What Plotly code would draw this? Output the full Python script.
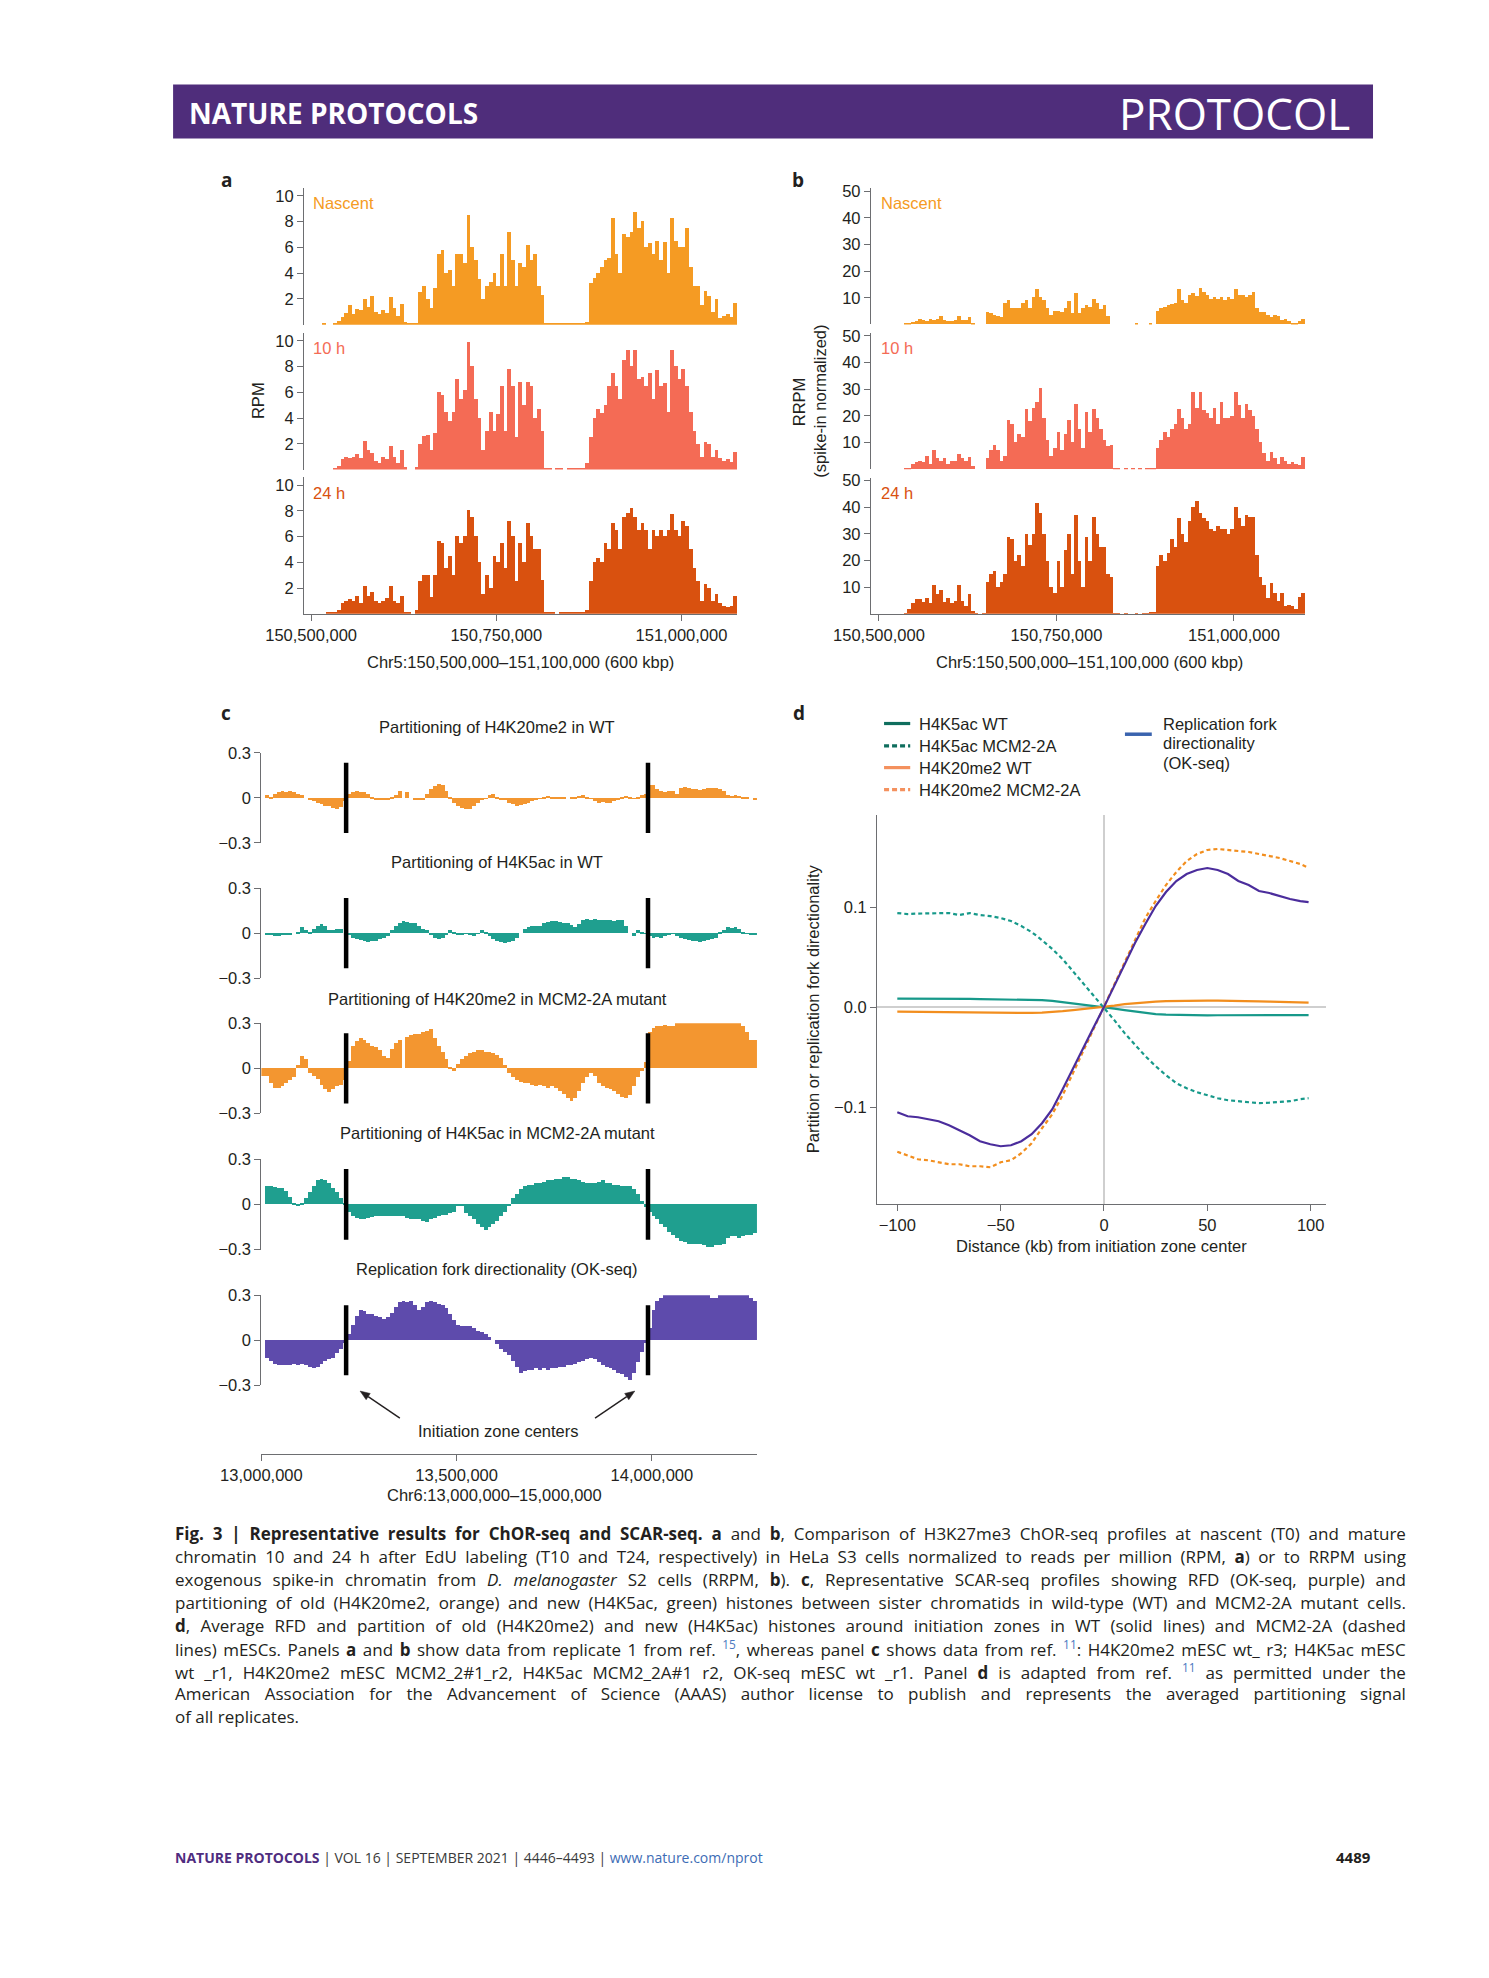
import math
import plotly.graph_objects as go

W, H = 1489, 1978


def fx(p):
    return p / W


def fy(p):
    return 1 - p / H


# ---------------- data ----------------
# Panels a/b: ChOR-seq tracks, 5 kb bins (bin centres from 150,492,500 bp)
A_BIN_START = 150_492_500
A_BIN_WIDTH = 5_000
GENOME_TICKS_AB = [150_500_000, 150_750_000, 151_000_000]

a_nascent = [0, 0, 0, 0, 0, 0.05, 0, 0, 0.1, 0.3,
             0.6, 0.9, 1.5, 0.8, 1.2, 1.1, 2.0, 1.4, 2.2, 1.0,
             0.8, 1.1, 0.9, 2.1, 1.3, 0.7, 1.6, 0.2, 0.1, 0.05,
             0.1, 2.5, 3.0, 2.0, 1.3, 2.8, 5.5, 5.8, 4.0, 4.2,
             3.0, 5.5, 5.5, 4.8, 8.5, 6.0, 5.0, 3.5, 2.0, 3.0,
             3.3, 4.0, 3.0, 5.5, 3.0, 7.2, 5.0, 3.0, 4.8, 4.5,
             6.2, 5.0, 5.5, 3.0, 2.3, 0.1, 0.05, 0.1, 0.05, 0.1,
             0.05, 0.1, 0.05, 0.1, 0.05, 0.1, 0.2, 3.2, 3.6, 4.0,
             4.5, 5.0, 5.2, 8.3, 5.5, 4.0, 7.0, 6.8, 7.2, 8.7,
             7.5, 8.0, 6.0, 6.3, 5.5, 6.5, 5.0, 6.4, 4.0, 8.3,
             6.5, 6.0, 6.0, 7.5, 4.5, 3.0, 3.0, 1.5, 2.6, 2.2,
             1.0, 2.0, 0.5, 0.7, 0.8, 0.6, 1.7]
a_10h = [0, 0, 0, 0, 0, 0, 0, 0, 0.1, 0.3,
         0.8, 1.0, 0.9, 1.0, 1.2, 0.9, 2.2, 1.5, 1.3, 0.7,
         0.5, 1.0, 0.8, 1.8, 1.0, 0.5, 1.5, 0.2, 0, 0,
         0.2, 2.0, 2.6, 2.7, 1.5, 2.8, 6.0, 5.8, 4.5, 3.8,
         4.5, 7.0, 5.5, 6.2, 9.9, 8.0, 5.5, 4.0, 1.5, 3.0,
         4.5, 3.0, 4.3, 6.5, 3.0, 7.8, 6.5, 2.5, 6.8, 5.0,
         6.8, 6.5, 4.0, 4.7, 3.0, 0.1, 0.05, 0, 0.05, 0.05,
         0, 0.05, 0.05, 0.05, 0.1, 0.1, 0.5, 2.5, 4.0, 4.7,
         4.4, 5.0, 6.5, 7.5, 6.5, 5.5, 8.5, 9.3, 8.0, 9.3,
         7.0, 7.2, 6.5, 7.5, 5.5, 7.7, 6.5, 6.7, 4.5, 9.3,
         8.0, 7.0, 7.8, 6.5, 4.5, 3.0, 2.0, 1.0, 2.1, 2.0,
         1.0, 1.5, 0.9, 0.7, 0.8, 0.6, 1.4]
a_24h = [0, 0, 0, 0, 0, 0, 0.05, 0.05, 0.1, 0.3,
         0.8, 1.0, 1.1, 1.0, 1.4, 0.8, 2.1, 1.4, 1.7, 1.0,
         0.8, 1.0, 1.2, 2.1, 1.0, 0.8, 1.4, 0.15, 0.05, 0,
         0.3, 2.5, 3.0, 3.0, 1.3, 3.0, 5.6, 5.5, 3.5, 4.5,
         3.0, 6.0, 5.5, 6.0, 8.0, 7.5, 6.0, 4.0, 1.5, 3.0,
         2.0, 4.5, 4.0, 5.5, 3.5, 7.2, 6.0, 2.5, 5.5, 4.0,
         7.0, 6.0, 5.0, 5.0, 2.6, 0.1, 0.05, 0.05, 0, 0.05,
         0.05, 0.05, 0.05, 0.05, 0.1, 0.1, 0.3, 2.5, 4.0, 4.3,
         4.0, 5.5, 5.0, 7.0, 6.5, 5.0, 7.5, 7.8, 8.2, 7.5,
         6.5, 7.0, 6.5, 5.0, 6.5, 6.0, 6.5, 6.0, 6.5, 7.7,
         6.5, 6.0, 7.2, 6.8, 5.0, 3.5, 2.5, 1.0, 2.3, 2.0,
         1.0, 1.5, 0.8, 0.6, 0.5, 0.6, 1.4]

b_nascent = [0, 0, 0, 0, 0, 0, 0, 0, 0, 0.3,
             0.5, 0.8, 1.0, 2.0, 1.5, 1.2, 1.8, 1.5, 2.0, 3.0,
             1.5, 1.2, 1.0, 1.5, 3.0, 1.5, 1.5, 2.5, 0.3, 0,
             0, 0, 4.5, 4.0, 3.5, 3.0, 2.5, 8.0, 9.0, 6.0,
             6.0, 6.0, 8.0, 9.0, 6.0, 10.0, 13.0, 10.0, 9.0, 6.0,
             3.5, 5.0, 5.0, 4.5, 6.0, 8.5, 4.0, 11.5, 4.0, 6.0,
             7.0, 6.5, 9.5, 8.0, 5.5, 7.0, 3.0, 0, 0, 0,
             0, 0, 0, 0, 0.3, 0, 0, 0, 0.3, 0,
             5.0, 6.0, 6.5, 7.0, 7.5, 8.0, 13.0, 9.0, 8.0, 11.0,
             11.5, 10.5, 13.5, 12.0, 11.0, 9.5, 10.0, 9.5, 10.0, 9.0,
             10.0, 9.5, 13.0, 11.0, 11.0, 10.0, 11.0, 12.0, 6.0, 4.5,
             4.5, 3.5, 2.5, 3.5, 3.0, 1.5, 2.0, 1.0, 0.5, 0.5,
             1.0, 2.0]
b_10h = [0, 0, 0, 0, 0, 0, 0, 0, 0, 0.5,
         0.5, 2.0, 2.5, 3.0, 2.5, 5.0, 2.0, 7.0, 4.0, 3.0,
         4.0, 2.0, 3.0, 3.0, 5.5, 4.0, 3.0, 4.5, 1.0, 0,
         0, 0, 4.0, 7.0, 9.0, 7.0, 3.0, 5.0, 18.5, 17.0,
         10.0, 13.0, 12.0, 22.5, 18.0, 23.0, 25.0, 30.5, 19.0, 11.0,
         5.0, 8.0, 14.0, 7.0, 13.0, 18.5, 10.0, 24.5, 15.0, 8.0,
         21.5, 14.0, 22.5, 19.0, 15.0, 11.0, 8.5, 9.0, 0.3, 0.3,
         0, 0.3, 0, 0.3, 0, 0.3, 0, 0.3, 0.3, 0.5,
         8.0, 11.0, 14.0, 12.0, 15.0, 17.0, 22.5, 19.0, 15.0, 17.0,
         29.0, 23.0, 29.0, 22.0, 21.0, 19.0, 23.0, 17.0, 25.0, 19.0,
         19.0, 20.0, 29.0, 24.0, 19.0, 24.5, 22.0, 20.0, 15.0, 10.0,
         6.0, 3.0, 6.5, 4.0, 2.0, 4.5, 3.0, 2.0, 2.5, 2.0,
         1.5, 4.5]
b_24h = [0, 0, 0, 0, 0, 0, 0, 0, 0, 0.5,
         2.0, 4.0, 5.5, 5.5, 4.5, 6.0, 4.0, 11.0, 7.5, 9.0,
         4.5, 6.0, 4.0, 5.0, 11.0, 5.0, 3.0, 7.5, 1.0, 0.2,
         0, 0.5, 12.0, 15.0, 16.0, 10.0, 12.0, 15.0, 29.0, 28.0,
         20.0, 22.0, 18.0, 30.0, 26.0, 30.0, 41.5, 38.0, 30.0, 20.0,
         10.0, 8.0, 20.0, 10.0, 24.0, 30.0, 15.0, 37.0, 20.0, 10.0,
         29.0, 20.0, 36.5, 30.0, 25.0, 25.0, 15.0, 14.0, 0.3, 0.2,
         0, 0.2, 0, 0, 0.2, 0, 0.2, 0.5, 0.8, 0.8,
         18.0, 22.0, 20.0, 23.0, 28.0, 25.0, 36.0, 30.0, 27.0, 35.0,
         40.0, 42.5, 38.0, 36.0, 35.0, 32.0, 31.0, 33.0, 32.0, 32.0,
         30.0, 32.0, 40.0, 36.0, 33.0, 37.0, 36.5, 36.5, 22.0, 14.0,
         11.0, 6.0, 11.5, 8.0, 5.0, 8.0, 3.0, 3.5, 3.0, 2.0,
         6.5, 8.0]

# Panel c: SCAR-seq partitioning, 10 kb bins (bin centres from 13,005,000 bp)
C_BIN_START = 13_005_000
C_BIN_WIDTH = 10_000
GENOME_TICKS_C = [13_000_000, 13_500_000, 14_000_000]
IZ_CENTERS = [13_217_000, 13_990_000]

c_h4k20_wt = [0, 0.02, 0.01, 0.03, 0.04, 0.045, 0.04, 0.045, 0.04, 0.03,
              0.02, 0.0, -0.01, -0.02, -0.03, -0.04, -0.05, -0.055, -0.065, -0.07,
              -0.06, -0.02, 0.03, 0.04, 0.045, 0.04, 0.04, 0.03, 0.01, -0.01,
              -0.015, -0.01, -0.01, 0.01, 0.02, 0.05, 0.0, 0.04, 0.0, -0.01,
              -0.015, -0.01, 0.03, 0.06, 0.08, 0.095, 0.085, 0.05, 0.01, -0.03,
              -0.05, -0.065, -0.075, -0.07, -0.05, -0.03, -0.01, -0.005, 0.02, 0.03,
              0.01, -0.01, -0.015, -0.03, -0.04, -0.05, -0.045, -0.04, -0.035, -0.02,
              -0.01, -0.005, 0.005, 0.015, 0.01, 0.005, 0.01, 0.005, 0.0, 0.005,
              0.01, 0.015, 0.02, 0.01, -0.005, -0.02, -0.03, -0.025, -0.03, -0.03,
              -0.02, -0.01, 0.005, 0.015, 0.01, -0.005, 0.01, 0.02, 0.025, 0.09,
              0.085, 0.06, 0.05, 0.04, 0.045, 0.05, 0.03, 0.07, 0.075, 0.065,
              0.06, 0.06, 0.055, 0.06, 0.065, 0.07, 0.065, 0.06, 0.05, 0.02,
              0.015, 0.02, 0.015, 0.01, 0.005, 0.0, -0.01]
c_h4k5_wt = [0, -0.01, -0.015, -0.02, -0.02, -0.01, -0.015, -0.01, 0.0, 0.01,
             0.04, 0.02, 0.01, 0.03, 0.05, 0.06, 0.05, 0.02, 0.02, 0.03,
             0.025, 0.0, -0.01, -0.03, -0.04, -0.045, -0.05, -0.06, -0.055, -0.05,
             -0.04, -0.03, -0.02, 0.02, 0.05, 0.07, 0.08, 0.075, 0.07, 0.065,
             0.05, 0.03, 0.02, -0.01, -0.03, -0.04, -0.035, -0.01, 0.02, 0.01,
             -0.01, -0.01, -0.005, -0.01, -0.02, -0.005, 0.02, 0.01, -0.02, -0.04,
             -0.05, -0.06, -0.065, -0.06, -0.05, -0.03, 0.0, 0.03, 0.04, 0.045,
             0.05, 0.05, 0.07, 0.075, 0.08, 0.08, 0.075, 0.07, 0.065, 0.055,
             0.04, 0.06, 0.09, 0.095, 0.09, 0.095, 0.09, 0.09, 0.085, 0.09,
             0.08, 0.085, 0.09, 0.05, 0.0, -0.02, 0.02, 0.01, -0.005, -0.02,
             -0.03, -0.025, -0.03, -0.02, -0.01, -0.005, -0.02, -0.03, -0.04, -0.045,
             -0.05, -0.055, -0.06, -0.05, -0.045, -0.04, -0.03, 0.01, 0.02, 0.04,
             0.035, 0.04, 0.03, 0.01, -0.005, -0.01, -0.01]
c_h4k20_mut = [-0.05, -0.05, -0.1, -0.13, -0.13, -0.12, -0.1, -0.08, -0.06, 0.02,
               0.08, 0.06, -0.03, -0.05, -0.07, -0.11, -0.14, -0.16, -0.14, -0.12,
               -0.11, -0.08, 0.05, 0.15, 0.18, 0.2, 0.19, 0.17, 0.15, 0.14,
               0.12, 0.08, 0.07, 0.13, 0.17, 0.19, 0.0, 0.21, 0.22, 0.23,
               0.23, 0.24, 0.25, 0.26, 0.2, 0.15, 0.11, 0.06, 0.01, -0.02,
               0.03, 0.06, 0.08, 0.1, 0.11, 0.12, 0.12, 0.11, 0.11, 0.1,
               0.09, 0.07, 0.02, -0.03, -0.06, -0.08, -0.09, -0.1, -0.1, -0.11,
               -0.12, -0.11, -0.12, -0.13, -0.12, -0.13, -0.15, -0.17, -0.2, -0.22,
               -0.2, -0.15, -0.1, -0.06, -0.03, -0.05, -0.1, -0.12, -0.13, -0.14,
               -0.15, -0.17, -0.19, -0.2, -0.18, -0.12, -0.06, -0.02, 0.04, 0.24,
               0.27, 0.28, 0.28, 0.29, 0.28, 0.28, 0.3, 0.3, 0.3, 0.3,
               0.3, 0.3, 0.3, 0.3, 0.3, 0.3, 0.3, 0.3, 0.3, 0.3,
               0.3, 0.3, 0.3, 0.28, 0.24, 0.19, 0.19]
c_h4k5_mut = [0, 0.12, 0.12, 0.115, 0.11, 0.11, 0.09, 0.05, 0.01, -0.01,
              0.01, 0.04, 0.08, 0.12, 0.16, 0.17, 0.16, 0.14, 0.11, 0.08,
              0.04, 0.01, -0.05, -0.08, -0.09, -0.1, -0.1, -0.09, -0.085, -0.08,
              -0.075, -0.08, -0.08, -0.075, -0.08, -0.08, -0.08, -0.09, -0.1, -0.1,
              -0.1, -0.11, -0.12, -0.1, -0.09, -0.08, -0.07, -0.07, -0.06, -0.05,
              -0.01, -0.005, -0.06, -0.08, -0.1, -0.13, -0.15, -0.17, -0.15, -0.13,
              -0.11, -0.08, -0.05, -0.01, 0.04, 0.07, 0.1, 0.12, 0.13, 0.13,
              0.14, 0.14, 0.15, 0.16, 0.16, 0.165, 0.17, 0.18, 0.18, 0.17,
              0.17, 0.16, 0.15, 0.14, 0.14, 0.14, 0.15, 0.16, 0.14, 0.14,
              0.13, 0.13, 0.12, 0.12, 0.12, 0.1, 0.07, 0.02, -0.02, -0.05,
              -0.08, -0.1, -0.13, -0.15, -0.18, -0.2, -0.22, -0.24, -0.25, -0.26,
              -0.26, -0.265, -0.26, -0.27, -0.28, -0.28, -0.27, -0.27, -0.26, -0.22,
              -0.21, -0.21, -0.22, -0.21, -0.2, -0.2, -0.19]
c_rfd = [0, -0.12, -0.14, -0.16, -0.17, -0.17, -0.17, -0.17, -0.16, -0.17,
         -0.16, -0.17, -0.18, -0.19, -0.18, -0.16, -0.14, -0.13, -0.12, -0.09,
         -0.06, -0.02, 0.04, 0.1, 0.16, 0.2, 0.19, 0.17, 0.17, 0.16,
         0.15, 0.14, 0.15, 0.18, 0.22, 0.25, 0.26, 0.25, 0.26, 0.23,
         0.2, 0.22, 0.25, 0.26, 0.25, 0.24, 0.23, 0.21, 0.17, 0.13,
         0.1, 0.09, 0.09, 0.09, 0.08, 0.06, 0.05, 0.04, 0.02, 0.0,
         -0.03, -0.06, -0.08, -0.1, -0.14, -0.18, -0.22, -0.21, -0.2, -0.2,
         -0.19, -0.2, -0.19, -0.2, -0.19, -0.19, -0.18, -0.18, -0.17, -0.17,
         -0.16, -0.15, -0.14, -0.13, -0.12, -0.13, -0.15, -0.17, -0.18, -0.19,
         -0.2, -0.22, -0.23, -0.25, -0.27, -0.22, -0.15, -0.08, -0.02, 0.08,
         0.2, 0.26, 0.28, 0.3, 0.3, 0.3, 0.3, 0.3, 0.3, 0.3,
         0.3, 0.3, 0.3, 0.3, 0.3, 0.28, 0.28, 0.3, 0.3, 0.3,
         0.3, 0.3, 0.3, 0.3, 0.3, 0.28, 0.26]

# Panel d: averaged profiles around initiation zones (kb)
d_dist = [-100, -95, -90, -85, -80, -75, -70, -65, -60, -55, -50, -45, -40, -35,
          -30, -25, -20, -15, -10, -5, 0, 5, 10, 15, 20, 25, 30, 35, 40, 45, 50,
          55, 60, 65, 70, 75, 80, 85, 90, 95, 99]
d_h4k5_wt = [0.0085, 0.0085, 0.0086, 0.0087, 0.0088, 0.0087, 0.0085, 0.0083, 0.008,
             0.0079, 0.0078, 0.0077, 0.0075, 0.0073, 0.007, 0.0062, 0.005, 0.0035,
             0.0022, 0.001, 0.0, -0.0015, -0.003, -0.0045, -0.006, -0.007, -0.0075,
             -0.0078, -0.008, -0.0081, -0.0082, -0.0081, -0.008, -0.008, -0.008,
             -0.0081, -0.0082, -0.0081, -0.008, -0.008, -0.008]
d_h4k5_mut = [0.094, 0.093, 0.0935, 0.0936, 0.094, 0.094, 0.092, 0.094, 0.092, 0.091,
              0.089, 0.086, 0.081, 0.075, 0.067, 0.058, 0.048, 0.036, 0.024, 0.012,
              0.0, -0.013, -0.026, -0.038, -0.049, -0.059, -0.068, -0.076, -0.081,
              -0.085, -0.088, -0.091, -0.093, -0.094, -0.095, -0.096, -0.0955,
              -0.095, -0.094, -0.092, -0.091]
d_h4k20_wt = [-0.0045, -0.0046, -0.0048, -0.005, -0.0052, -0.0055, -0.0058, -0.0059,
              -0.006, -0.0061, -0.0062, -0.0061, -0.006, -0.0058, -0.0055, -0.005,
              -0.004, -0.003, -0.002, -0.001, 0.0, 0.0015, 0.003, 0.004, 0.0048,
              0.0055, 0.006, 0.0063, 0.0065, 0.0065, 0.0065, 0.0065, 0.0065, 0.0062,
              0.006, 0.0058, 0.0055, 0.0052, 0.005, 0.0047, 0.0045]
d_h4k20_mut = [-0.1445, -0.148, -0.152, -0.153, -0.155, -0.157, -0.157, -0.159, -0.159,
               -0.160, -0.155, -0.153, -0.146, -0.136, -0.121, -0.107, -0.088, -0.066,
               -0.043, -0.022, 0.0, 0.023, 0.044, 0.067, 0.089, 0.106, 0.122, 0.135,
               0.146, 0.153, 0.157, 0.158, 0.157, 0.156, 0.155, 0.153, 0.151, 0.149,
               0.146, 0.143, 0.139]
d_rfd = [-0.105, -0.109, -0.11, -0.112, -0.114, -0.118, -0.123, -0.128, -0.134, -0.137,
         -0.139, -0.138, -0.134, -0.127, -0.116, -0.102, -0.082, -0.061, -0.040, -0.020,
         0.0, 0.021, 0.042, 0.064, 0.083, 0.101, 0.115, 0.126, 0.133, 0.137, 0.139,
         0.137, 0.133, 0.126, 0.122, 0.116, 0.114, 0.111, 0.108, 0.106, 0.105]

# ---------------- style ----------------
TXT = "#231f20"
AXC = "#6d6e71"
FONT = "Liberation Sans, Arial, Helvetica, sans-serif"
CAPF = "Open Sans, Noto Sans, sans-serif"
PURPLE_HDR = "#4f2d7b"
TICK_SIZE = 16.5
LABEL_SIZE = 16.5

COL_NASCENT = "#f59b23"
COL_10H = "#f46b55"
COL_24H = "#d9510f"
COL_ORANGE_C = "#f39630"
COL_TEAL_C = "#1f9f8f"
COL_PURPLE_C = "#5e4bac"
COL_ORANGE = "#f28e1e"
COL_TEAL = "#17998a"
COL_RFD = "#4b2d9c"


def bins(start, width, n):
    return [start + width * i for i in range(n)]


fig = go.Figure()

# panel a & b bars
for vals, col, ya in [(a_nascent, COL_NASCENT, "y"), (a_10h, COL_10H, "y2"), (a_24h, COL_24H, "y3")]:
    fig.add_trace(go.Bar(x=bins(A_BIN_START, A_BIN_WIDTH, len(vals)), y=vals, width=A_BIN_WIDTH,
                         marker=dict(color=col, line=dict(width=0)), xaxis="x", yaxis=ya,
                         hoverinfo="skip"))
for vals, col, ya in [(b_nascent, COL_NASCENT, "y4"), (b_10h, COL_10H, "y5"), (b_24h, COL_24H, "y6")]:
    fig.add_trace(go.Bar(x=bins(A_BIN_START, A_BIN_WIDTH, len(vals)), y=vals, width=A_BIN_WIDTH,
                         marker=dict(color=col, line=dict(width=0)), xaxis="x2", yaxis=ya,
                         hoverinfo="skip"))
# panel c bars
for vals, col, ya in [(c_h4k20_wt, COL_ORANGE_C, "y7"), (c_h4k5_wt, COL_TEAL_C, "y8"),
                      (c_h4k20_mut, COL_ORANGE_C, "y9"), (c_h4k5_mut, COL_TEAL_C, "y10"),
                      (c_rfd, COL_PURPLE_C, "y11")]:
    fig.add_trace(go.Bar(x=bins(C_BIN_START, C_BIN_WIDTH, len(vals)), y=vals, width=C_BIN_WIDTH,
                         marker=dict(color=col, line=dict(width=0)), xaxis="x3", yaxis=ya,
                         hoverinfo="skip"))
# panel d lines
for vals, col, dash in [(d_h4k5_wt, COL_TEAL, "solid"), (d_h4k20_wt, COL_ORANGE, "solid"),
                        (d_h4k5_mut, COL_TEAL, "4px,3px"), (d_h4k20_mut, COL_ORANGE, "4px,3px"),
                        (d_rfd, COL_RFD, "solid")]:
    fig.add_trace(go.Scatter(x=d_dist, y=vals, mode="lines",
                             line=dict(color=col, width=2.2, dash=dash),
                             xaxis="x4", yaxis="y12", hoverinfo="skip"))


def axis(**kw):
    base = dict(showgrid=False, zeroline=False, showline=True, linecolor=AXC, linewidth=1.2,
                ticks="outside", ticklen=6, tickcolor=AXC, tickwidth=1.2,
                tickfont=dict(family=FONT, size=TICK_SIZE, color=TXT), fixedrange=True)
    base.update(kw)
    return base


layout = dict(
    width=W, height=H, margin=dict(l=0, r=0, t=0, b=0),
    paper_bgcolor="white", plot_bgcolor="white", showlegend=False,
    barmode="overlay", bargap=0,
)

# panel a axes
layout["xaxis"] = axis(domain=[fx(262.3), fx(707.5)], range=[150_490_500, 151_075_000],
                       anchor="y3", tickvals=GENOME_TICKS_AB, tickformat=",d")
layout["yaxis"] = axis(domain=[fy(310.5), fy(172.7)], range=[0, 10.6], anchor="x", tickvals=[2, 4, 6, 8, 10])
layout["yaxis2"] = axis(domain=[fy(456.7), fy(318.9)], range=[0, 10.6], anchor="x", tickvals=[2, 4, 6, 8, 10])
layout["yaxis3"] = axis(domain=[fy(602.3), fy(464.5)], range=[0, 10.6], anchor="x", tickvals=[2, 4, 6, 8, 10])
# panel b axes
layout["xaxis2"] = axis(domain=[fx(845.2), fx(1291.8)], range=[150_488_700, 151_100_400],
                        anchor="y6", tickvals=GENOME_TICKS_AB, tickformat=",d")
layout["yaxis4"] = axis(domain=[fy(310.3), fy(173.0)], range=[0, 51], anchor="x2", tickvals=[10, 20, 30, 40, 50])
layout["yaxis5"] = axis(domain=[fy(456.3), fy(319.0)], range=[0, 51], anchor="x2", tickvals=[10, 20, 30, 40, 50])
layout["yaxis6"] = axis(domain=[fy(602.3), fy(465.0)], range=[0, 51], anchor="x2", tickvals=[10, 20, 30, 40, 50])
# panel c axes
layout["xaxis3"] = axis(domain=[fx(218.4), fx(728)], range=[13_000_000, 14_269_000],
                        anchor="free", position=fy(1450), tickvals=GENOME_TICKS_C, tickformat=",d")
c_doms = [(742.5, 833.5), (879, 970), (1015.5, 1106.4), (1152.5, 1244), (1290, 1380.7)]
for k, (top, bot) in enumerate(c_doms):
    layout["yaxis%d" % (7 + k)] = axis(domain=[fy(bot), fy(top)], range=[-0.3, 0.3], anchor="x3",
                                        tickvals=[-0.3, 0, 0.3], ticktext=["\u22120.3", "0", "0.3"])
# panel d axes
layout["xaxis4"] = axis(domain=[fx(851.5), fx(1312.9)], range=[-109.8, 107.3], anchor="y12",
                        tickvals=[-100, -50, 0, 50, 100],
                        ticktext=["\u2212100", "\u221250", "0", "50", "100"],
                        zeroline=True, zerolinecolor="#cfcfcf", zerolinewidth=1.5)
layout["yaxis12"] = axis(domain=[fy(1198), fy(805.7)], range=[-0.1968, 0.1916], anchor="x4",
                         tickvals=[-0.1, 0, 0.1], ticktext=["\u22120.1", "0.0", "0.1"],
                         zeroline=True, zerolinecolor="#cfcfcf", zerolinewidth=1.5)

fig.update_layout(**layout)

shapes = []
# header bar
shapes.append(dict(type="rect", xref="paper", yref="paper", x0=fx(127.6), x1=fx(1361.5),
                   y0=fy(122.5), y1=fy(68), fillcolor=PURPLE_HDR, line=dict(width=0), layer="below"))
# initiation-zone markers in panel c
for k in range(5):
    for xc in IZ_CENTERS:
        shapes.append(dict(type="line", xref="x3", yref="y%d" % (7 + k), x0=xc, x1=xc,
                           y0=-0.234, y1=0.234, line=dict(color="black", width=4.5)))
# arrows pointing at the initiation zone markers (pixel geometry)
for (tail_x, tail_y), (tip_x, tip_y) in [((360.8, 1414.0), (319.9, 1386.7)),
                                         ((561.5, 1414.0), (602.4, 1386.7))]:
    dx, dy = tip_x - tail_x, tip_y - tail_y
    ln = math.hypot(dx, dy)
    ux, uy = dx / ln, dy / ln
    bx, by = tip_x - 10 * ux, tip_y - 10 * uy
    nx, ny = -uy, ux
    shapes.append(dict(type="line", xref="paper", yref="paper", x0=fx(tail_x), y0=fy(tail_y),
                       x1=fx(bx), y1=fy(by), line=dict(color=TXT, width=1.4)))
    p1 = (bx + 3.8 * nx, by + 3.8 * ny)
    p2 = (bx - 3.8 * nx, by - 3.8 * ny)
    path = "M %f %f L %f %f L %f %f Z" % (fx(tip_x), fy(tip_y), fx(p1[0]), fy(p1[1]), fx(p2[0]), fy(p2[1]))
    shapes.append(dict(type="path", xref="paper", yref="paper", path=path,
                       fillcolor=TXT, line=dict(color=TXT, width=0.5)))
# panel d legend samples
leg_rows = [(713.0, "#0f6e5e", "solid", "H4K5ac WT"),
            (735.6, "#0f6e5e", "5px,3px", "H4K5ac MCM2-2A"),
            (757.5, "#f4915e", "solid", "H4K20me2 WT"),
            (779.8, "#f4915e", "5px,3px", "H4K20me2 MCM2-2A")]
for yy, col, dash, _ in leg_rows:
    shapes.append(dict(type="line", xref="paper", yref="paper", x0=fx(858.7), x1=fx(885.6),
                       y0=fy(yy), y1=fy(yy), line=dict(color=col, width=3.2, dash=dash)))
shapes.append(dict(type="line", xref="paper", yref="paper", x0=fx(1106.4), x1=fx(1134),
                   y0=fy(723.8), y1=fy(723.8), line=dict(color="#3a63ae", width=3.5)))

ann = []


def text(t, x, y, size=LABEL_SIZE, color=TXT, family=FONT, xanchor="center", yanchor="middle",
         angle=0, align="center"):
    ann.append(dict(text=t, x=fx(x), y=fy(y), xref="paper", yref="paper", showarrow=False,
                    font=dict(family=family, size=size, color=color), xanchor=xanchor,
                    yanchor=yanchor, textangle=angle, align=align))
    return len(ann) - 1


# header
text("<b>NATURE PROTOCOLS</b>", 142.0, 96.5, size=28, color="white", family=CAPF, xanchor="left")
text("PROTOCOL", 1340, 96.5, size=44, color="white", family=CAPF, xanchor="right")

# panel letters
for lab, x, y in [("a", 183, 164), ("b", 770.5, 165), ("c", 182.3, 702.7), ("d", 770.8, 702.3)]:
    text("<b>%s</b>" % lab, x, y, size=19, family=CAPF)

# panel a/b track labels
for lab, col, y in [("Nascent", COL_NASCENT, 188), ("10 h", COL_10H, 334), ("24 h", COL_24H, 480)]:
    text(lab, 269.5, y, color=col, xanchor="left")
    text(lab, 853.5, y, color=col, xanchor="left")
text("RPM", 215.5, 387, angle=-90)
text("RRPM", 772.0, 388, angle=-90)
text("(spike-in normalized)", 793.0, 388, angle=-90)
text("Chr5:150,500,000\u2013151,100,000 (600 kbp)", 485, 651)
text("Chr5:150,500,000\u2013151,100,000 (600 kbp)", 1069.6, 651)

# panel c
c_titles = ["Partitioning of H4K20me2 in WT", "Partitioning of H4K5ac in WT",
            "Partitioning of H4K20me2 in MCM2-2A mutant", "Partitioning of H4K5ac in MCM2-2A mutant",
            "Replication fork directionality (OK-seq)"]
for t, y in zip(c_titles, [717, 853, 990.7, 1126.7, 1264]):
    text(t, 461, y)
text("Initiation zone centers", 462, 1427)
text("Chr6:13,000,000\u201315,000,000", 458, 1492)

# panel d
for yy, _, _, lab in leg_rows:
    text(lab, 892.8, yy, xanchor="left")
for yy, lab in [(713, "Replication fork"), (733, "directionality"), (753, "(OK-seq)")]:
    text(lab, 1144, yy, xanchor="left")
text("Partition or replication fork directionality", 786, 1001, angle=-90)
text("Distance (kb) from initiation zone center", 1082, 1240)

# caption
SUP = "<sup><span style='color:#4a78c0'>%s</span></sup>"
caption_lines = [
    "<b>Fig. 3 | Representative results for ChOR-seq and SCAR-seq. a</b> and <b>b</b>, Comparison of H3K27me3 ChOR-seq profiles at nascent (T0) and mature",
    "chromatin 10 and 24 h after EdU labeling (T10 and T24, respectively) in HeLa S3 cells normalized to reads per million (RPM, <b>a</b>) or to RRPM using",
    "exogenous spike-in chromatin from <i>D. melanogaster</i> S2 cells (RRPM, <b>b</b>). <b>c</b>, Representative SCAR-seq profiles showing RFD (OK-seq, purple) and",
    "partitioning of old (H4K20me2, orange) and new (H4K5ac, green) histones between sister chromatids in wild-type (WT) and MCM2-2A mutant cells.",
    "<b>d</b>, Average RFD and partition of old (H4K20me2) and new (H4K5ac) histones around initiation zones in WT (solid lines) and MCM2-2A (dashed",
    "lines) mESCs. Panels <b>a</b> and <b>b</b> show data from replicate 1 from ref. " + SUP % "15" + ", whereas panel <b>c</b> shows data from ref. " + SUP % "11" + ": H4K20me2 mESC wt_ r3; H4K5ac mESC",
    "wt _r1, H4K20me2 mESC MCM2_2#1_r2, H4K5ac MCM2_2A#1 r2, OK-seq mESC wt _r1. Panel <b>d</b> is adapted from ref. " + SUP % "11" + " as permitted under the",
    "American Association for the Advancement of Science (AAAS) author license to publish and represents the averaged partitioning signal",
    "of all replicates.",
]
justify_idx = []
for k, line in enumerate(caption_lines):
    i = text(line, 127.6, 1530 + 23.2 * k, size=17, family=CAPF, xanchor="left", align="left")
    if k < len(caption_lines) - 1:
        justify_idx.append(i)

# footer
text("<b><span style='color:#4f2d7f'>NATURE PROTOCOLS</span></b> | VOL 16 | SEPTEMBER 2021 | 4446\u20134493 | "
     "<span style='color:#3d6cb5'>www.nature.com/nprot</span>", 127.6, 1857, size=14, family=CAPF,
     color="#3a3a3a", xanchor="left", align="left")
text("<b>4489</b>", 1361.5, 1857, size=15, family=CAPF, xanchor="right")

fig.update_layout(shapes=shapes, annotations=ann)

# justify the caption lines (full-width block text, as in the printed figure)
post_js = """
(function(){
  var gd = document.getElementById('{plot_id}');
  var IDX = %s, TARGET = %f;
  function justify(){
    var groups = gd.querySelectorAll('g.annotation');
    for (var j = 0; j < groups.length; j++) {
      var g = groups[j];
      var idx = parseInt(g.getAttribute('data-index'), 10);
      if (IDX.indexOf(idx) < 0) continue;
      var t = g.querySelector('text.annotation-text');
      if (!t) continue;
      t.style.wordSpacing = '0px';
      var w = t.getBBox().width;
      var n = (t.textContent.match(/ /g) || []).length;
      if (n > 0 && w < TARGET) t.style.wordSpacing = ((TARGET - w) / n) + 'px';
    }
  }
  try { justify(); } catch (e) {}
  if (document.fonts && document.fonts.ready) {
    document.fonts.ready.then(function(){ try { justify(); } catch (e) {} });
  }
})();
""" % (str(justify_idx), 1361.5 - 127.6 - 3)

fig.write_html("out.html", post_script=post_js)
